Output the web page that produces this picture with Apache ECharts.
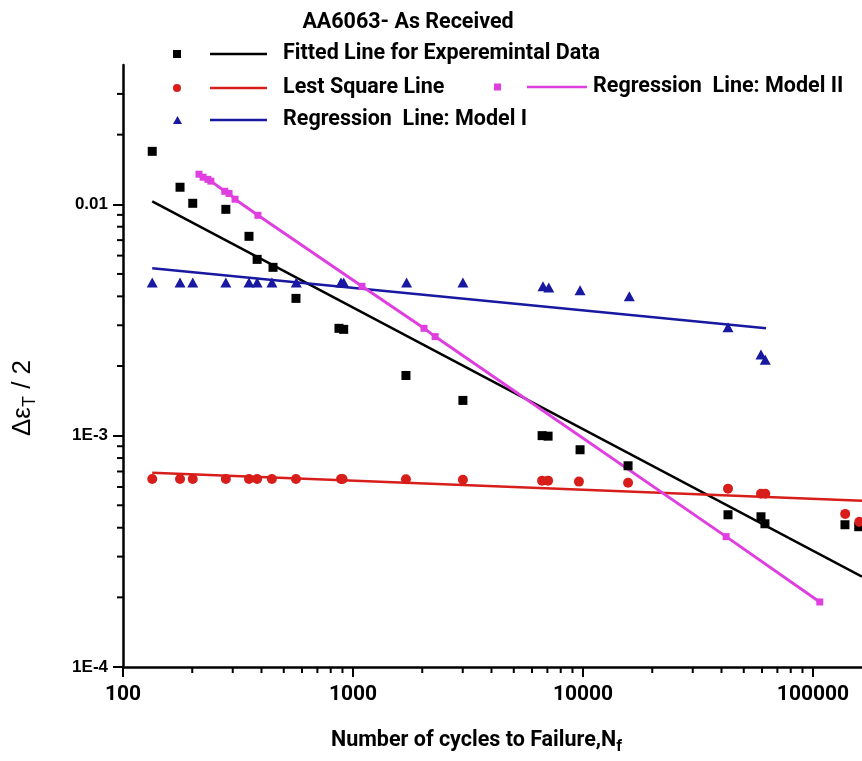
<!DOCTYPE html>
<html><head><meta charset="utf-8">
<script src="https://cdn.jsdelivr.net/npm/echarts@6/dist/echarts.min.js"></script>
<style>html,body{margin:0;padding:0;background:#fff}#c{width:862px;height:761px}</style>
</head><body><div id="c"></div>
<script>
// ---- data ----
const chartTitle = 'AA6063- As Received';
const nameFit = 'Fitted Line for Experemintal Data';
const nameLsq = 'Lest Square Line';
const nameM1 = 'Regression  Line: Model I';
const nameM2 = 'Regression  Line: Model II';

const expCycles = [134,177,201,280,353,383,449,565,869,911,1699,3005,6640,7050,9710,15700,42700,59400,61800,137700,158000];
const expStrain = [0.01694,0.01185,0.0101,0.00951,0.00727,0.00578,0.00534,0.00392,0.00291,0.00288,0.00182,0.00142,0.00100,0.000995,0.000869,0.000741,0.000455,0.000446,0.000416,0.000412,0.000404];

const lsqCycles = [134,177,201,280,353,383,444,565,887,901,1699,3005,6640,7050,9600,15700,42700,59400,62000,138000,159000];
const lsqStrain = [0.00065,0.00065,0.00065,0.00065,0.00065,0.00065,0.00065,0.00065,0.00065,0.00065,0.000648,0.000645,0.000639,0.000639,0.000633,0.000626,0.00059,0.000561,0.000561,0.000459,0.000424];

const m1Cycles = [134,177,201,280,353,383,444,567,887,911,1710,3005,6700,7100,9710,15900,42700,59400,62000];
const m1Strain = [0.00459,0.00459,0.00459,0.00459,0.00459,0.00459,0.00459,0.00459,0.00459,0.00459,0.00459,0.00459,0.00442,0.00437,0.00425,0.004,0.00294,0.00224,0.00213];

const m2Cycles = [214,223,234,241,277,289,307,386,1094,2036,2275,41900,107000];
const m2Strain = [0.01349,0.01309,0.01282,0.01259,0.01138,0.01114,0.01052,0.00896,0.00442,0.00291,0.00268,0.000366,0.000191];

const fitLineCycles = [134,163300];
const fitLineStrain = [0.0103,0.000246];
const lsqLineCycles = [134,163300];
const lsqLineStrain = [0.000692,0.000523];
const m1LineCycles = [134,62500];
const m1LineStrain = [0.00529,0.00291];

const xTickExps = [2,3,4,5];
const xTickLabels = ['100','1000','10000','100000'];
const yTickExps = [-4,-3,-2];
const yTickLabels = ['1E-4','1E-3','0.01'];
const xMinorTicks = [200,300,400,500,600,700,800,900,2000,3000,4000,5000,6000,7000,8000,9000,20000,30000,40000,50000,60000,70000,80000,90000];
const yMinorTicks = [0.0002,0.0003,0.0004,0.0005,0.0006,0.0007,0.0008,0.0009,0.002,0.003,0.004,0.005,0.006,0.007,0.008,0.009,0.02,0.03];
const xMin = 100, xMax = 163300, yMin = 0.0001, yMax = 0.04;

// ---- chart ----
const zip = (a,b) => a.map((v,i)=>[v,b[i]]);
const C_BLACK='#000000', C_RED='#d81e1a', C_BLUE='#1818a0', C_MAG='#e03fe0';
const LF = 'Roboto, "Open Sans", sans-serif';
const AF = '"Liberation Sans", Arial, sans-serif';
function lbl(exps, labels){
  return function(v){
    const l = Math.log10(v), e = Math.round(l);
    const i = exps.indexOf(e);
    return (i>=0 && Math.abs(l-e)<1e-6) ? labels[i] : '';
  };
}
const legTxt = {fontFamily:LF, fontWeight:'bold', fontSize:21.5, color:'#000', padding:[0,0,0,11]};
function leg(name, icon, left, top, w, h){
  return {data:[{name:name, icon:icon}], left:left, top:top, itemWidth:w, itemHeight:h,
    padding:0, selectedMode:false, textStyle:legTxt, orient:'horizontal'};
}
const minorTick = (axis) => ({
  type:'custom', coordinateSystem:'cartesian2d', clip:false, silent:true, z:5,
  data: axis==='x' ? xMinorTicks.map(v=>[v,yMin]) : yMinorTicks.map(v=>[xMin,v]),
  renderItem:function(params, api){
    const p = api.coord([api.value(0), api.value(1)]);
    const s = axis==='x' ? {x1:p[0],y1:p[1],x2:p[0],y2:p[1]+6} : {x1:p[0],y1:p[1],x2:p[0]-6,y2:p[1]};
    return {type:'line', shape:s, style:{stroke:'#000', lineWidth:2}};
  }
});

const chart = echarts.init(document.getElementById('c'), null, {renderer:'canvas'});
chart.setOption({
  backgroundColor:'#fff',
  animation:false,
  title:{text:chartTitle, left:403, top:7, textAlign:'center',
    textStyle:{fontFamily:LF, fontWeight:'bold', fontSize:21.5, color:'#000'}},
  legend:[
    leg(nameFit, 'path://M0,0h8v8h-8z M37,2.8h57v2.4h-57z', 173, 43, 94, 8),
    leg(nameLsq, 'path://M0,4a4,4 0 1,1 8,0a4,4 0 1,1 -8,0z M37,2.8h57v2.4h-57z', 173, 77, 94, 8),
    leg(nameM1, 'path://M4.5,0L9,8H0z M37,2.8h57v2.4h-57z', 173, 109, 94, 8),
    Object.assign(leg(nameM2, 'path://M0,0h7v7h-7z M33,2.3h60v2.4h-60z', 494, 76, 93, 7), {textStyle:Object.assign({}, legTxt, {padding:[0,0,0,1]})})
  ],
  grid:{left:123, right:0, top:65, bottom:94, containLabel:false},
  xAxis:{
    type:'log', logBase:10, min:xMin, max:xMax,
    axisLine:{show:true, lineStyle:{color:'#000', width:2.5}},
    axisTick:{show:true, inside:false, length:10, lineStyle:{color:'#000', width:2}},
    minorTick:{show:false}, splitLine:{show:false},
    axisLabel:{formatter:lbl(xTickExps, xTickLabels), fontFamily:LF, fontWeight:'bold', fontSize:21, color:'#000', margin:17, showMaxLabel:false},
    name:'{a|Number of cycles to Failure,N}{b|f}', nameLocation:'middle', nameGap:60,
    nameTextStyle:{padding:[0,32,0,0], rich:{
      a:{fontFamily:LF, fontWeight:'bold', fontSize:21.5, color:'#000'},
      b:{fontFamily:LF, fontWeight:'bold', fontSize:16, color:'#000', padding:[12,0,0,0]}
    }}
  },
  yAxis:{
    type:'log', logBase:10, min:yMin, max:yMax,
    axisLine:{show:true, lineStyle:{color:'#000', width:2.5}},
    axisTick:{show:true, inside:false, length:10, lineStyle:{color:'#000', width:2}},
    minorTick:{show:false}, splitLine:{show:false},
    axisLabel:{formatter:lbl(yTickExps, yTickLabels), fontFamily:AF, fontWeight:'bold', fontSize:17, color:'#000', margin:15, showMaxLabel:false},
    name:'{a|Δε}{b|T}{a| / 2}', nameLocation:'middle', nameRotate:90, nameGap:84,
    nameTextStyle:{padding:[0,64,0,0], rich:{
      a:{fontFamily:AF, fontSize:26, color:'#000'},
      b:{fontFamily:AF, fontSize:18, color:'#000', padding:[15,0,0,0]}
    }}
  },
  series:[
    {name:nameFit, type:'scatter', symbol:'rect', symbolSize:9, itemStyle:{color:C_BLACK, opacity:1}, data:zip(expCycles, expStrain), z:4},
    {name:nameLsq, type:'scatter', symbol:'circle', symbolSize:10, itemStyle:{color:C_RED, opacity:1}, data:zip(lsqCycles, lsqStrain), z:4},
    {name:nameM1, type:'scatter', symbol:'triangle', symbolSize:[11,10], itemStyle:{color:C_BLUE, opacity:1}, data:zip(m1Cycles, m1Strain), z:4},
    {name:nameM2, type:'scatter', symbol:'rect', symbolSize:7, itemStyle:{color:C_MAG, opacity:1}, data:zip(m2Cycles, m2Strain), z:4},
    {name:nameFit, type:'line', showSymbol:false, symbol:'none', lineStyle:{color:C_BLACK, width:2.5}, data:zip(fitLineCycles, fitLineStrain), z:3},
    {name:nameLsq, type:'line', showSymbol:false, symbol:'none', lineStyle:{color:C_RED, width:2.5}, data:zip(lsqLineCycles, lsqLineStrain), z:3},
    {name:nameM1, type:'line', showSymbol:false, symbol:'none', lineStyle:{color:C_BLUE, width:2.5}, data:zip(m1LineCycles, m1LineStrain), z:3},
    {name:nameM2, type:'line', showSymbol:false, symbol:'none', lineStyle:{color:C_MAG, width:3}, data:zip(m2Cycles, m2Strain), z:3},
    minorTick('x'),
    minorTick('y')
  ]
});
</script>
</body></html>
